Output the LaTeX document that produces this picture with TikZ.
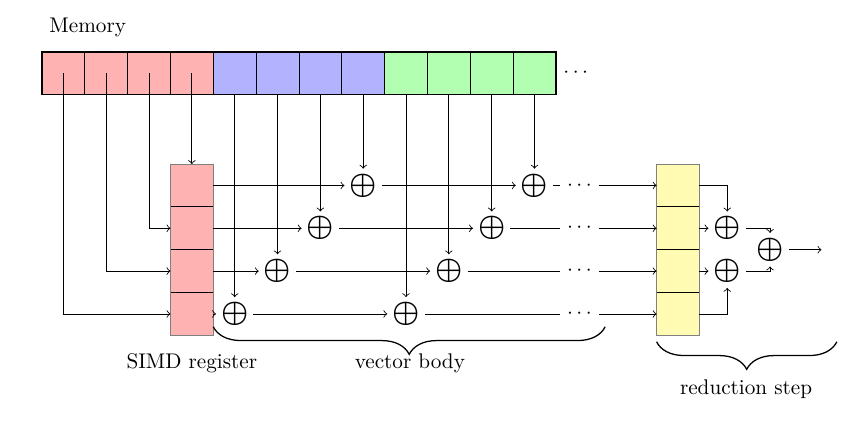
\documentclass[tikz,border=0pt]{standalone}
\usetikzlibrary{calc,decorations.pathreplacing}
\colorlet{memred}{red!30}
\colorlet{memblue}{blue!30}
\colorlet{memgreen}{green!30}
\colorlet{regyellow}{yellow!30}
\begin{document}
\begin{tikzpicture}[x=0.71cm,y=0.71cm,>=to,
    cell/.style={draw,minimum width=0.71cm,minimum height=0.71cm,inner sep=0pt,outer sep=0pt},
    addop/.style={font=\fontsize{15.5}{17}\selectfont\boldmath,inner sep=2.2pt},
    underbrace/.style={decorate,decoration={brace,mirror,amplitude=13pt},semithick}]
            \useasboundingbox (0.02,1.21) rectangle (19.96,-8.78);
            \node[anchor=west] (memlabel) at (1,0.56) {Memory};
            \foreach \i/\c in {1/memred,2/memred,3/memred,4/memred,5/memblue,6/memblue,7/memblue,8/memblue,9/memgreen,10/memgreen,11/memgreen,12/memgreen}
                \node[cell,fill=\c] (m\i) at (\i+0.5,-0.5) {};
            \draw[thick] (m1.north west) rectangle (m12.south east);
            \node[right] (memdots) at (m12.east) {$\cdots$};
            \foreach \i in {1,...,4} {
                \node[cell,fill=memred] (r\i) at (4.5,-2.12-\i) {};
                \node[cell,fill=regyellow] (y\i) at (15.85,-2.12-\i) {};
                \node[addop] (addA\i) at (9.5-\i,-2.12-\i) {$\oplus$};
                \node[addop] (addB\i) at (13.5-\i,-2.12-\i) {$\oplus$};
                \node (dots\i) at (13.55,-2.12-\i) {$\cdots$};
            }
            \draw[black!50] (r1.north west) rectangle (r4.south east);
            \draw[black!50] (y1.north west) rectangle (y4.south east);
            \draw[->] (m1.center) |- (r4.west);
            \draw[->] (m2.center) |- (r3.west);
            \draw[->] (m3.center) |- (r2.west);
            \draw[->] (m4.center) -- (r1.north);
            \foreach \i/\ja/\jb in {1/8/12,2/7/11,3/6/10,4/5/9} {
                \draw[->] (m\ja.south) -- (addA\i.north);
                \draw[->] (m\jb.south) -- (addB\i.north);
                \draw[->] (r\i.east) -- (addA\i);
                \draw[->] (addA\i) -- (addB\i);
                \draw (addB\i) -- (dots\i);
                \draw[->] (dots\i) -- (y\i.west);
            }
            \node[addop] (redA) at (17,-4.12) {$\oplus$};
            \node[addop] (redB) at (17,-5.12) {$\oplus$};
            \node[addop] (redC) at (18,-4.62) {$\oplus$};
            \coordinate (result) at (19.2,-4.62);
            \draw[->] (y1.east) -| (redA.north);
            \draw[->] (y2.east) -- (redA);
            \draw[->] (y3.east) -- (redB);
            \draw[->] (y4.east) -| (redB.south);
            \draw[->] (redA) -| (redC);
            \draw[->] (redB) -| (redC);
            \draw[->] (redC) -- (result);
            \draw[underbrace] (5,-6.42) -- (14.15,-6.42);
            \draw[underbrace] (15.35,-6.77) -- (19.56,-6.77);
            \node (simdlabel) at (4.5,-7.26) {SIMD register};
            \node (bodylabel) at (9.59,-7.28) {vector body};
            \node (redlabel) at (17.44,-7.87) {reduction step};
    \end{tikzpicture}
\end{document}
